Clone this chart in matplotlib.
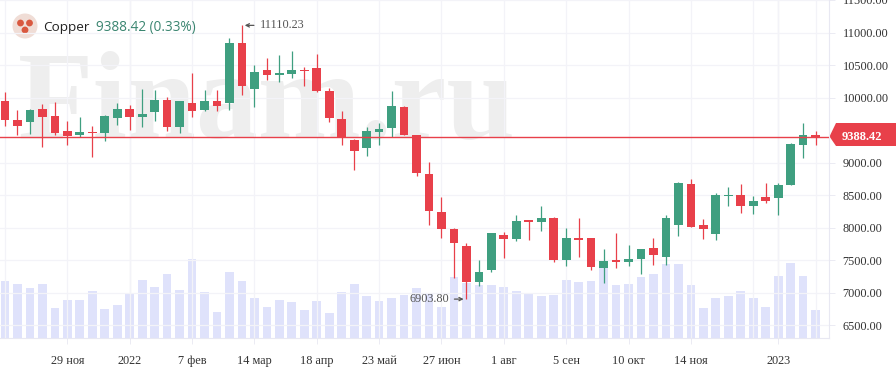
import matplotlib
matplotlib.use("Agg")
import matplotlib.pyplot as plt
import numpy as np
from matplotlib.patches import Circle, Polygon
from matplotlib.transforms import IdentityTransform

# weekly candles
opens = [9941, 9656, 9625, 9829, 9712, 9483, 9432, 9467, 9452, 9681, 9829, 9696, 9778, 9961, 9544, 9920,
         9814, 9941, 9910, 10842, 10139, 10419, 10353, 10368, 10430, 10460, 10094, 9676, 9350, 9223, 9467,
         9528, 9849, 9427, 8821, 8246, 7981, 7726, 7161, 7350, 7884, 7828, 8113, 8093, 8149, 7502, 7843,
         7843, 7385, 7502, 7467, 7523, 7691, 7558, 8037, 8668, 8037, 7905, 8485, 8510, 8327, 8470, 8459,
         8653, 9279, 9432]
highs = [10083, 9813, 9829, 9900, 9926, 9635, 9696, 9559, 9727, 9920, 9880, 10134, 10119, 10002, 9946,
         10384, 10119, 10124, 10918, 11110.23, 10501, 10613, 10653, 10715, 10475, 10674, 10155, 9788, 9371,
         9544, 9605, 10099, 9870, 9432, 9004, 8470, 7996, 7767, 7502, 7925, 7940, 8190, 8113, 8342, 8164,
         7996, 8149, 7843, 7681, 7925, 7731, 7670, 7843, 8190, 8699, 8745, 8129, 8531, 8627, 8678, 8495,
         8694, 8683, 9310, 9605, 9483]
lows = [9559, 9432, 9447, 9243, 9432, 9274, 9391, 9091, 9340, 9579, 9508, 9544, 9635, 9483, 9452, 9696,
        9793, 9788, 9808, 10043, 9849, 10272, 10236, 10307, 10185, 10083, 9625, 9279, 8892, 9101, 9274,
        9391, 9432, 8800, 8047, 7843, 7233, 6903.80, 7105, 7319, 7543, 7792, 7808, 7945, 7467, 7406, 7558,
        7350, 7151, 7385, 7406, 7289, 7421, 7421, 7869, 8006, 7828, 7808, 8327, 8230, 8205, 8378, 8190,
        8653, 9065, 9279]
closes = [9661, 9564, 9808, 9696, 9452, 9411, 9467, 9452, 9712, 9829, 9696, 9752, 9961, 9544, 9941, 9793,
          9941, 9864, 10842, 10175, 10399, 10348, 10373, 10419, 10409, 10094, 9681, 9376, 9182, 9483, 9523,
          9864, 9432, 8841, 8251, 7981, 7772, 7161, 7324, 7925, 7828, 8108, 8093, 8149, 7502, 7843, 7808,
          7390, 7482, 7467, 7518, 7670, 7579, 8149, 8683, 8017, 7976, 8510, 8500, 8332, 8414, 8414, 8658,
          9294, 9432, 9388.42]
volumes = [170, 163, 149, 163, 89, 115, 115, 141, 88, 100, 134, 174, 152, 193, 144, 236, 138, 78, 198, 171,
           119, 93, 115, 108, 85, 111, 74, 139, 163, 127, 111, 119, 130, 149, 134, 93, 182, 165, 160, 160,
           153, 141, 134, 127, 130, 174, 167, 171, 212, 160, 163, 182, 193, 223, 223, 160, 89, 119, 126, 141,
           119, 92, 186, 226, 186, 84]

price_ticks = [6500, 7000, 7500, 8000, 8500, 9000, 10000, 10500, 11000, 11500]
date_pos = [5, 10, 15, 20, 25, 30, 35, 40, 45, 50, 55, 62]
date_labels = ["29 ноя", "2022", "7 фев", "14 мар", "18 апр", "23 май", "27 июн", "1 авг", "5 сен", "10 окт",
               "14 ноя", "2023"]
grid_only_pos = [0, 60, 65]
last_price = 9388.42

GREEN = "#3f9f80"
RED = "#e8404a"
GRID = "#f3f3f8"
SERIF = "Liberation Serif"

W, H = 896, 378
fig = plt.figure(figsize=(W / 100, H / 100), dpi=100, facecolor="white")
rect = [0, (H - 338) / H, 829.3 / W, 338 / H]

ax_vol = fig.add_axes(rect)
ax = fig.add_axes(rect)
ax.patch.set_visible(False)

x = np.arange(len(opens))
xlim = (-0.401, 66.1)

# volume + watermark underneath
ax_vol.bar(x, volumes, width=0.7, color="#dfe2fb", zorder=2)
ax_vol.set_xlim(xlim)
ax_vol.set_ylim(0, 1014)
ax_vol.axis("off")
fig.text(18 / W, 1 - 138 / H, "Finam.ru", family=SERIF, weight="bold", fontsize=89, color="#eeeeee",
         ha="left", va="baseline", zorder=-1)
ax_vol.set_zorder(1)
ax.set_zorder(2)

for xi, o, h, l, c in zip(x, opens, highs, lows, closes):
    col = GREEN if c >= o else RED
    ax.plot([xi, xi], [l, h], color=col, lw=0.9, solid_capstyle="butt", zorder=3)
    ax.bar(xi, max(abs(c - o), 15), bottom=min(o, c), width=0.7, color=col, zorder=4)

ax.axhline(last_price, color=RED, lw=1.0, zorder=5)

ax.set_xlim(xlim)
ax.set_ylim(6306, 11468)
ax.set_yticks(price_ticks)
ax.set_yticklabels([f"{p:.2f}" for p in price_ticks], family=SERIF, fontsize=8.85, color="#333333")
ax.yaxis.tick_right()
ax.set_xticks(date_pos)
ax.set_xticklabels(date_labels, family=SERIF, fontsize=8.85, color="#333333")
ax.tick_params(axis="y", length=4.5, width=0.7, color="#ebebf3", pad=5)
ax.tick_params(axis="x", length=4, width=0.7, color="#ebebf3", pad=8)
ax.grid(True, color=GRID, lw=0.9, zorder=0)
ax.set_axisbelow(True)
for g in grid_only_pos:
    ax.axvline(g, color=GRID, lw=0.9, zorder=0)
for y_pos in [10, 62]:
    ax.axvline(y_pos, color="#e9e9ef", lw=0.9, zorder=0)
for s in ["top", "left"]:
    ax.spines[s].set_visible(False)
for s in ["right", "bottom"]:
    ax.spines[s].set_color("#e8e8f2")
    ax.spines[s].set_linewidth(0.8)

# high / low marks
hi = int(np.argmax(highs))
lo = int(np.argmin(lows))
arrow = dict(arrowstyle="->", color="#555555", lw=0.9, shrinkA=0, shrinkB=2, mutation_scale=6)
ax.annotate("", xy=(hi, highs[hi]), xytext=(12, 0), textcoords="offset pixels", arrowprops=arrow)
ax.annotate("", xy=(lo, lows[lo]), xytext=(-12, 0), textcoords="offset pixels", arrowprops=arrow)
ax.annotate(f"{highs[hi]:.2f}", xy=(hi, highs[hi]), xytext=(18, 0), textcoords="offset pixels", family=SERIF,
            fontsize=8.85, color="#555555", ha="left", va="center")
ax.annotate(f"{lows[lo]:.2f}", xy=(lo, lows[lo]), xytext=(-17, 0), textcoords="offset pixels", family=SERIF,
            fontsize=8.85, color="#555555", ha="right", va="center")

# current price tag
tag = [(829.5, 136.5), (836, 123), (896, 123), (896, 146), (836, 146)]
fig.add_artist(Polygon([(px / W, 1 - py / H) for px, py in tag], closed=True, color=RED,
                       transform=fig.transFigure, lw=0))
fig.text(862 / W, 1 - 136.5 / H, f"{last_price:.2f}", family=SERIF, weight="bold", fontsize=9, color="white",
         ha="center", va="center")

# header with icon
disp = IdentityTransform()
fig.add_artist(Circle((25, H - 26), 12.5, color="#f0ddd6", transform=disp, lw=0))
for dx, dy in [(-4.5, 3), (4.5, 3), (0, -4)]:
    fig.add_artist(Circle((25 + dx, H - 26 + dy), 3.4, color="#d9583f", transform=disp, lw=0))
fig.text(43 / W, 1 - 27.5 / H, "Copper", family="Open Sans", fontsize=9.7, color="#222222", va="center")
fig.text(96 / W, 1 - 27.5 / H, f"{last_price:.2f} (0.33%)", family="Open Sans", fontsize=9.8, color="#3a8570",
         va="center")

fig.savefig("out.png", dpi=100)
